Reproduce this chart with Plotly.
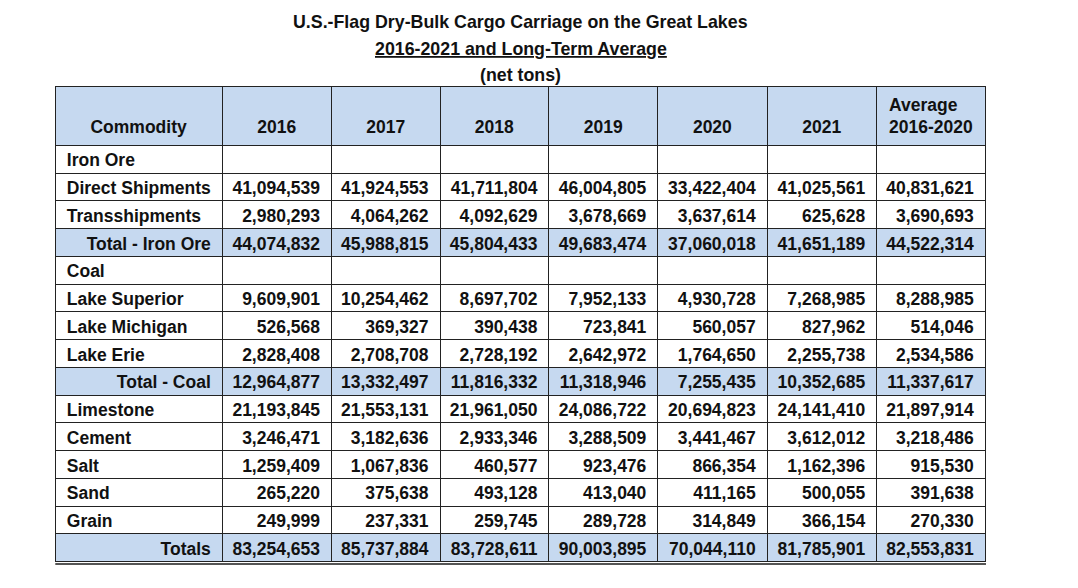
import plotly.graph_objects as go

# rows of the table
commodities = ["Iron Ore", "Direct Shipments", "Transshipments", "Total - Iron Ore",
               "Coal", "Lake Superior", "Lake Michigan", "Lake Erie", "Total - Coal",
               "Limestone", "Cement", "Salt", "Sand", "Grain", "Totals"]
total_rows = ["Total - Iron Ore", "Total - Coal", "Totals"]

column_heads = ["2016", "2017", "2018", "2019", "2020", "2021", "Average<br>2016-2020"]

# net tons, one list per column (None = section heading row)
t2016 = [None, 41094539, 2980293, 44074832, None, 9609901, 526568, 2828408, 12964877,
         21193845, 3246471, 1259409, 265220, 249999, 83254653]
t2017 = [None, 41924553, 4064262, 45988815, None, 10254462, 369327, 2708708, 13332497,
         21553131, 3182636, 1067836, 375638, 237331, 85737884]
t2018 = [None, 41711804, 4092629, 45804433, None, 8697702, 390438, 2728192, 11816332,
         21961050, 2933346, 460577, 493128, 259745, 83728611]
t2019 = [None, 46004805, 3678669, 49683474, None, 7952133, 723841, 2642972, 11318946,
         24086722, 3288509, 923476, 413040, 289728, 90003895]
t2020 = [None, 33422404, 3637614, 37060018, None, 4930728, 560057, 1764650, 7255435,
         20694823, 3441467, 866354, 411165, 314849, 70044110]
t2021 = [None, 41025561, 625628, 41651189, None, 7268985, 827962, 2255738, 10352685,
         24141410, 3612012, 1162396, 500055, 366154, 81785901]
avg_2016_2020 = [None, 40831621, 3690693, 44522314, None, 8288985, 514046, 2534586, 11337617,
                 21897914, 3218486, 915530, 391638, 270330, 82553831]

BLUE = "#c6d9f0"
LINE = "#222222"
CLEAR = "rgba(0,0,0,0)"
FONT = "Liberation Sans, Arial, sans-serif"
TXT = "#111111"
NB = "\u00a0"

# the page body has an 8px margin, so work in page pixels and shift
OFF = 8
W, H = 1078 - 2 * OFF, 588 - 2 * OFF
LEFT, RIGHT, COL1 = 55.3, 986.0, 222.3
TOP = 86.5
ROW_H = 27.75
HEAD_H = 56


def px_x(p):
    return (p - OFF) / W


def px_y(p):
    return 1 - (p - OFF) / H


num_cols = [t2016, t2017, t2018, t2019, t2020, t2021, avg_2016_2020]


def fmt(col):
    return ["" if v is None else "{:,}\u2009".format(v) for v in col]


# non-breaking spaces keep plotly from wrapping the labels
left_labels = ["" if c in total_rows else "\u2009" + c.replace(" ", NB) for c in commodities]
right_labels = [c.replace(" ", NB) + "\u2009" if c in total_rows else "" for c in commodities]

values = [left_labels] + [fmt(c) for c in num_cols]
row_fill = [BLUE if c in total_rows else "white" for c in commodities]

cell_font = dict(family=FONT, size=17.5, color=TXT, weight="bold")
# single-line headings sit on the lower line of the header
head_values = [NB + "<br>Commodity"] + [h if "<br>" in h else NB + "<br>" + h
                                        for h in column_heads]

fig = go.Figure()

fig.add_trace(go.Table(
    domain=dict(x=[px_x(LEFT), px_x(RIGHT)], y=[0, px_y(TOP)]),
    columnwidth=[167, 109.4, 108.6, 109, 109, 109.4, 109.6, 108.7],
    header=dict(
        values=head_values,
        fill_color=BLUE,
        line=dict(color=LINE, width=1),
        align="center",
        font=cell_font,
        height=HEAD_H,
    ),
    cells=dict(
        values=values,
        fill_color=[row_fill] * 8,
        line=dict(color=LINE, width=1),
        align=["left"] + ["right"] * 7,
        font=cell_font,
        height=ROW_H,
    ),
))

# totals labels are right-aligned, overlaid on the first column
fig.add_trace(go.Table(
    domain=dict(x=[px_x(LEFT), px_x(COL1)], y=[0, px_y(TOP)]),
    header=dict(values=[head_values[0]], fill_color=CLEAR, line=dict(color=CLEAR, width=0),
                font=dict(family=FONT, size=17.5, color=CLEAR, weight="bold"), height=HEAD_H),
    cells=dict(values=[right_labels], fill_color=CLEAR, line=dict(color=CLEAR, width=0),
               align="right", font=cell_font, height=ROW_H),
))

titles = ["<b>U.S.-Flag Dry-Bulk Cargo Carriage on the Great Lakes</b>",
          "<b><span style='text-decoration:underline'>2016-2021 and Long-Term Average</span></b>",
          "<b>(net tons)</b>"]
title_y = [22, 49.5, 74.5]
for t, ty in zip(titles, title_y):
    fig.add_annotation(text=t, xref="paper", yref="paper", x=px_x(520.7),
                       y=px_y(ty), xanchor="center", yanchor="middle",
                       showarrow=False, font=dict(family=FONT, size=17.8, color=TXT))

# double rule under the totals row
fig.add_shape(type="line", xref="paper", yref="paper", x0=px_x(LEFT), x1=px_x(RIGHT),
              y0=px_y(564), y1=px_y(564), line=dict(color="#555555", width=2))

fig.update_layout(width=W, height=H, margin=dict(l=0, r=0, t=0, b=0),
                  paper_bgcolor="white", plot_bgcolor="white")

fig.write_html("out.html")
